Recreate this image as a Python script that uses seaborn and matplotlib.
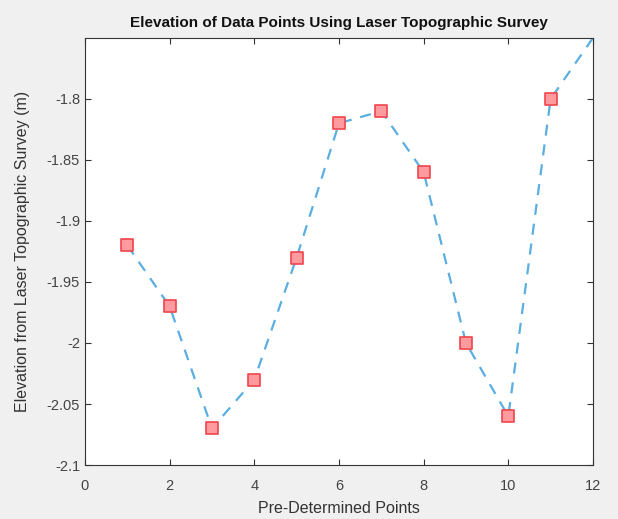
import matplotlib
matplotlib.use("Agg")
import matplotlib.pyplot as plt
import seaborn as sns
import pandas as pd

# values
points = [1, 2, 3, 4, 5, 6, 7, 8, 9, 10, 11, 12]
elevation = [-1.92, -1.97, -2.07, -2.03, -1.93, -1.82, -1.81, -1.86, -2.00, -2.06, -1.80, -1.75]
x_ticks = [0, 2, 4, 6, 8, 10, 12]
y_ticks = [-2.1, -2.05, -2.0, -1.95, -1.9, -1.85, -1.8]
y_labels = ["-2.1", "-2.05", "-2", "-1.95", "-1.9", "-1.85", "-1.8"]

df = pd.DataFrame({"Point": points, "Elevation": elevation})
marked = df.iloc[:11]

sns.set_style("ticks")
plt.rcParams["font.family"] = ["Liberation Sans", "DejaVu Sans"]

fig = plt.figure(figsize=(6.18, 5.19), dpi=100, facecolor="#f0f0f0")
ax = fig.add_axes([0.1375, 0.104, 0.822, 0.823])
ax.set_facecolor("white")

sns.lineplot(data=df, x="Point", y="Elevation", ax=ax, color="#5aaee0",
             linestyle=(0, (5, 4)), linewidth=1.6)
sns.scatterplot(data=marked, x="Point", y="Elevation", ax=ax, marker="s", s=70,
                color="#ff9a9e", edgecolor="#f0444c", linewidth=1.2, zorder=3)

ax.set_xlim(0, 12)
ax.set_ylim(-2.1, -1.75)
ax.set_xticks(x_ticks)
ax.set_yticks(y_ticks)
ax.set_yticklabels(y_labels)
ax.tick_params(direction="in", top=True, right=True, length=4, width=0.8,
               colors="#333333", labelsize=10.5, labelcolor="#444444")
ax.tick_params(axis="x", pad=10)
for s in ax.spines.values():
    s.set_color("#333333")
    s.set_linewidth(0.8)

ax.set_title("Elevation of Data Points Using Laser Topographic Survey",
             fontsize=11, fontweight="bold", color="#111111", pad=8)
ax.set_xlabel("Pre-Determined Points", fontsize=11.5, color="#333333", labelpad=6)
ax.set_ylabel("Elevation from Laser Topographic Survey (m)", fontsize=11.5,
              color="#333333", labelpad=12)

fig.savefig("out.png", dpi=100, facecolor=fig.get_facecolor())
